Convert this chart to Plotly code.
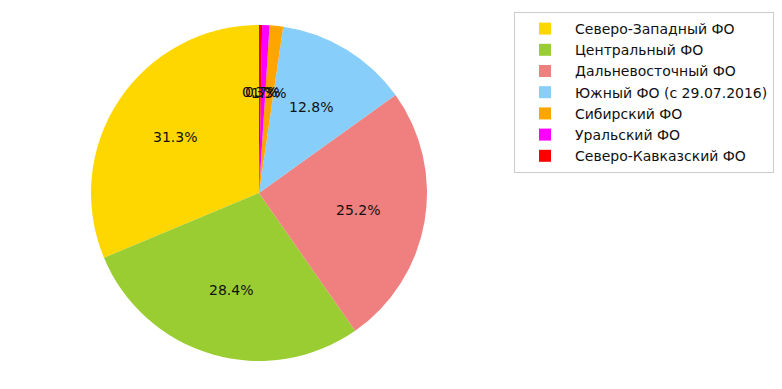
import math
import plotly.graph_objects as go

districts = ["Северо-Западный ФО", "Центральный ФО", "Дальневосточный ФО",
             "Южный ФО (с 29.07.2016)", "Сибирский ФО", "Уральский ФО",
             "Северо-Кавказский ФО"]
shares = [31.3, 28.4, 25.2, 12.8, 1.3, 0.7, 0.3]
colors = ["#FFD700", "#9ACD32", "#F08080", "#87CEFA", "#FFA500", "#FF00FF", "#FF0000"]

W, H = 782, 389
# page body has an 8px margin, so geometry is shifted by -8 px
cx, cy, R = 251, 185, 168

total = sum(shares)
# Plotly's counterclockwise mode lays the first slice clockwise of the start;
# rotate back by the first slice so it starts at 12 o'clock.
first_rot = -360 * shares[0] / total

fig = go.Figure(go.Pie(
    labels=districts, values=shares, sort=False, direction="counterclockwise",
    rotation=first_rot, marker=dict(colors=colors, line=dict(width=0)),
    textinfo="none", hoverinfo="label+percent",
    domain=dict(x=[(cx - R) / W, (cx + R) / W], y=[(H - cy - R) / H, (H - cy + R) / H]),
))

cum = 0.0
for v in shares:
    ang = math.radians(90 + 360 * (cum + v / 2) / total)
    cum += v
    px = cx + 0.6 * R * math.cos(ang)
    py = cy - 0.6 * R * math.sin(ang)
    fig.add_annotation(x=px / W, y=1 - py / H, xref="paper", yref="paper",
                       text=f"{100 * v / total:.1f}%", showarrow=False,
                       font=dict(family="DejaVu Sans", size=14, color="#111111"),
                       xanchor="center", yanchor="middle")

fig.update_layout(
    width=W, height=H, margin=dict(l=0, r=0, t=0, b=0),
    paper_bgcolor="white", plot_bgcolor="white",
    font=dict(family="DejaVu Sans", size=14, color="#111111"),
    legend=dict(x=506 / W, y=1 - 4 / H, xanchor="left", yanchor="top",
                bordercolor="#cccccc", borderwidth=1, bgcolor="white",
                itemwidth=50, tracegroupgap=0,
                font=dict(family="DejaVu Sans", size=14, color="#111111")),
)

fig.write_html("out.html")
